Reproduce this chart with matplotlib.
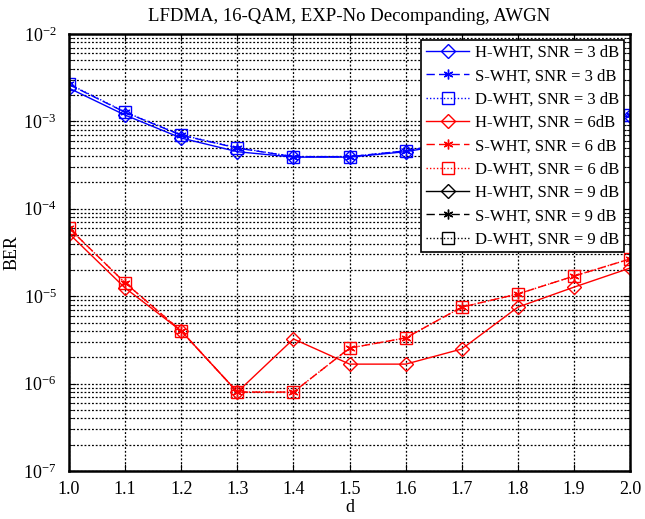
import numpy as np
import matplotlib
matplotlib.use("Agg")
import matplotlib.pyplot as plt
from matplotlib.ticker import LogLocator, NullFormatter

plt.rcParams['font.family'] = ['Liberation Serif', 'DejaVu Serif']
plt.rcParams['mathtext.fontset'] = 'stix'

d = [1.0, 1.1, 1.2, 1.3, 1.4, 1.5, 1.6, 1.7, 1.8, 1.9, 2.0]

# SNR = 3 dB
h_wht_3 = [2.4e-3, 1.18e-3, 6.45e-4, 4.5e-4, 3.9e-4, 3.9e-4, 4.5e-4, 5.8e-4, 7.4e-4, 9.3e-4, 1.16e-3]
s_wht_3 = [2.65e-3, 1.27e-3, 6.95e-4, 4.95e-4, 3.95e-4, 3.95e-4, 4.6e-4, 6.0e-4, 7.6e-4, 9.5e-4, 1.18e-3]
d_wht_3 = [2.68e-3, 1.28e-3, 7.0e-4, 5.0e-4, 3.95e-4, 3.95e-4, 4.6e-4, 6.0e-4, 7.6e-4, 9.5e-4, 1.18e-3]

# SNR = 6 dB
h_wht_6 = [5.2e-5, 1.24e-5, 4.0e-6, 8.0e-7, 3.24e-6, 1.67e-6, 1.67e-6, 2.49e-6, 7.5e-6, 1.27e-5, 2.1e-5]
s_wht_6 = [6.0e-5, 1.42e-5, 4.0e-6, 8.0e-7, 8.0e-7, 2.55e-6, 3.33e-6, 7.5e-6, 1.06e-5, 1.7e-5, 2.67e-5]
d_wht_6 = [6.0e-5, 1.42e-5, 4.0e-6, 8.0e-7, 8.0e-7, 2.55e-6, 3.33e-6, 7.5e-6, 1.06e-5, 1.7e-5, 2.67e-5]

# SNR = 9 dB: no errors counted, nothing to draw on a log axis
h_wht_9 = [np.nan] * len(d)
s_wht_9 = [np.nan] * len(d)
d_wht_9 = [np.nan] * len(d)

fig = plt.figure(figsize=(6.45, 5.19), dpi=100)
ax = fig.add_axes([0.107, 0.0925, 0.870, 0.842])

asterisk = (6, 2, 0)
styles = [
    (h_wht_3, 'b', '-', 'D', 'H-WHT, SNR = 3 dB'),
    (s_wht_3, 'b', (0, (6, 3)), asterisk, 'S-WHT, SNR = 3 dB'),
    (d_wht_3, 'b', (0, (1, 1.5)), 's', 'D-WHT, SNR = 3 dB'),
    (h_wht_6, 'r', '-', 'D', 'H-WHT, SNR = 6dB'),
    (s_wht_6, 'r', (0, (6, 3)), asterisk, 'S-WHT, SNR = 6 dB'),
    (d_wht_6, 'r', (0, (1, 1.5)), 's', 'D-WHT, SNR = 6 dB'),
    (h_wht_9, 'k', '-', 'D', 'H-WHT, SNR = 9 dB'),
    (s_wht_9, 'k', (0, (6, 3)), asterisk, 'S-WHT, SNR = 9 dB'),
    (d_wht_9, 'k', (0, (1, 1.5)), 's', 'D-WHT, SNR = 9 dB'),
]

for y, c, ls, mk, lab in styles:
    ms = 8 if mk == 's' else 7
    ax.semilogy(d, y, color=c, linestyle=ls, marker=mk, markersize=ms,
                markerfacecolor='none', markeredgewidth=1.0,
                linewidth=1.0, label=lab)

ax.set_xlim(1.0, 2.0)
ax.set_ylim(1e-7, 1e-2)
ax.set_xticks(d)
ax.set_xticklabels(['%.1f' % v for v in d])
ax.yaxis.set_major_locator(LogLocator(base=10, numticks=10))
ax.yaxis.set_minor_locator(LogLocator(base=10, subs=np.arange(2, 10), numticks=10))
ax.yaxis.set_minor_formatter(NullFormatter())

ax.grid(True, which='major', axis='both', color='k', linestyle=(0, (1.5, 1.5)), linewidth=0.9)
ax.grid(True, which='minor', axis='y', color='k', linestyle=(0, (1.5, 1.5)), linewidth=0.9)
ax.tick_params(which='both', direction='in', top=True, right=True, labelsize=13)
ax.tick_params(which='major', length=5)
ax.tick_params(which='minor', length=3)
ax.tick_params(axis='y', which='major', pad=9)
ax.tick_params(axis='x', which='major', pad=7)
for s in ax.spines.values():
    s.set_linewidth(1.8)

ax.set_title('LFDMA, 16-QAM, EXP-No Decompanding, AWGN', fontsize=13.5, pad=9)
ax.set_xlabel('d', fontsize=13, labelpad=1)
ax.set_ylabel('BER', fontsize=13, labelpad=2)

leg = ax.legend(loc='upper right', fontsize=12, fancybox=False, framealpha=1,
                edgecolor='k', borderaxespad=0.35, handlelength=2.6,
                labelspacing=0.44, borderpad=0.3, handletextpad=0.35)
leg.get_frame().set_linewidth(1.2)

fig.savefig('out.png', dpi=100)
